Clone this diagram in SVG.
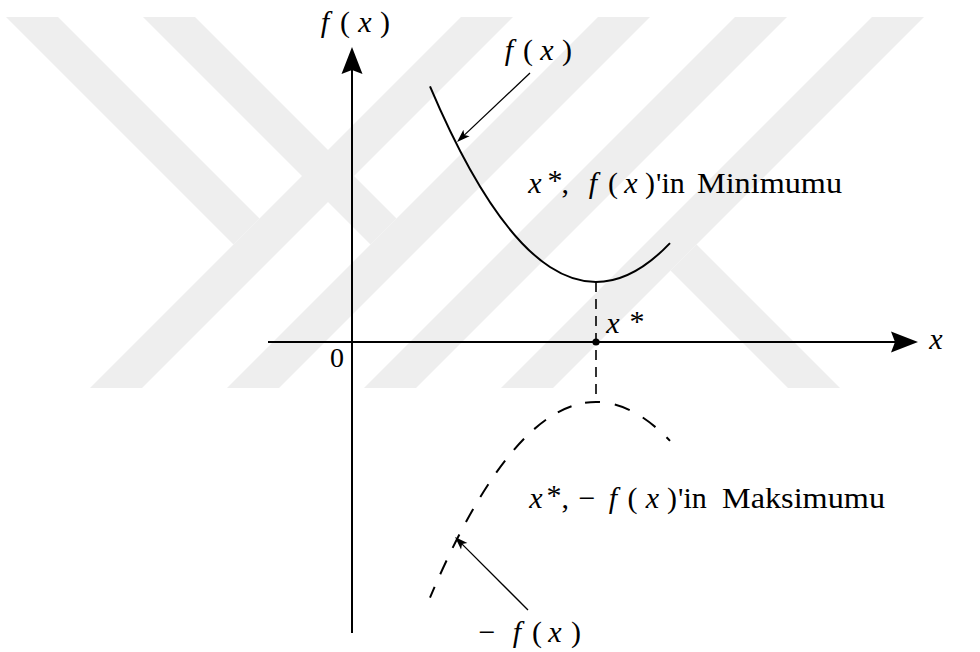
<svg xmlns="http://www.w3.org/2000/svg" width="980" height="652" viewBox="0 0 980 652">
<style>
  .wm{fill:#eeeeee}
  .axis{stroke:#000;stroke-width:2;fill:none}
  .curve{stroke:#000;stroke-width:2;fill:none}
  .dash{stroke:#000;stroke-width:2;fill:none}
  .vdash{stroke:#000;stroke-width:1.6;fill:none;stroke-dasharray:10 7}
  .thin{stroke:#000;stroke-width:1.3;fill:none}
  .m{font-style:italic}
  .c{text-anchor:middle}
</style>
<defs>
  <marker id="axhead" markerUnits="userSpaceOnUse" markerWidth="30" markerHeight="24" viewBox="0 -12 30 24" refX="4" refY="0" orient="auto">
    <path d="M0,-10.5 L27,0 L0,10.5 L4,0 Z" fill="#000"/>
  </marker>
  <marker id="head" markerUnits="userSpaceOnUse" markerWidth="15" markerHeight="10" viewBox="0 -5 15 10" refX="3" refY="0" orient="auto">
    <path d="M0,-4.5 L13,0 L0,4.5 L3,0 Z" fill="#000"/>
  </marker>
</defs>
<rect width="980" height="652" fill="#fff"/>
<g id="watermark">
  <polygon class="wm" points="461,17 513,17 142,388 90,388"/>
  <polygon class="wm" points="598,17 650,17 279,388 227,388"/>
  <polygon class="wm" points="735,17 787,17 416,388 364,388"/>
  <polygon class="wm" points="872,17 924,17 553,388 501,388"/>
  <polygon class="wm" points="6,17 58,17 259.5,218.5 233.5,244.5"/>
  <polygon class="wm" points="143,17 195,17 396.5,218.5 370.5,244.5"/>
  <polygon class="wm" points="670.5,270.5 696.5,244.5 840,388 788,388"/>
</g>
<g id="axes">
  <path id="y-axis" class="axis" d="M352,633 L352,70" marker-end="url(#axhead)"/>
  <path id="x-axis" class="axis" d="M268,342 L895,342" marker-end="url(#axhead)"/>
</g>
<g id="curves">
  <path id="f-curve" class="curve" d="M430,86.4 Q550,369.3 670,243.1"/>
  <path id="negf-left" class="dash" style="stroke-dasharray:15 14;stroke-dashoffset:4" d="M596,402 Q513,402 430,597.6"/>
  <path id="negf-right" class="dash" style="stroke-dasharray:16 15;stroke-dashoffset:12" d="M596,402 Q633,402 670,440.9"/>
  <path id="xstar-line" class="vdash" d="M596,282 L596,402"/>
  <circle id="xstar-dot" cx="596" cy="342" r="3.6" fill="#000"/>
</g>
<g id="connectors">
  <path class="thin" d="M530,73 L464.3,135.1" marker-end="url(#head)"/>
  <path class="thin" d="M528,610 L462.1,544.1" marker-end="url(#head)"/>
</g>
<g id="labels" font-family="Liberation Serif, Times New Roman, DejaVu Serif, serif" font-size="30" fill="#000">
  <text id="ylabel" y="32"><tspan class="m c" x="325">f</tspan><tspan class="c" x="345">(</tspan><tspan class="m c" x="365">x</tspan><tspan class="c" x="385">)</tspan></text>
  <text id="xlabel" class="m c" x="936" y="349">x</text>
  <text id="zero" class="c" x="337" y="367" font-size="28">0</text>
  <text id="xstar" y="333"><tspan class="m c" x="613">x</tspan><tspan class="c" x="637" y="331">*</tspan></text>
  <text id="flabel" y="60"><tspan class="m c" x="509">f</tspan><tspan class="c" x="528">(</tspan><tspan class="m c" x="547">x</tspan><tspan class="c" x="567">)</tspan></text>
  <text id="negflabel" y="642"><tspan class="c" x="487">−</tspan><tspan class="m c" x="517">f</tspan><tspan class="c" x="537">(</tspan><tspan class="m c" x="555">x</tspan><tspan class="c" x="576">)</tspan></text>
  <text id="minlabel" y="193"><tspan class="m c" x="535">x</tspan><tspan class="c" x="555" y="190">*</tspan><tspan class="c" x="569" y="193">,</tspan> <tspan class="m c" x="593">f</tspan><tspan class="c" x="613">(</tspan><tspan class="m c" x="631">x</tspan><tspan class="c" x="650">)</tspan><tspan x="656">'in</tspan> <tspan x="697" textLength="145" lengthAdjust="spacingAndGlyphs">Minimumu</tspan></text>
  <text id="maxlabel" y="508"><tspan class="m c" x="536">x</tspan><tspan class="c" x="554" y="505">*</tspan><tspan class="c" x="569" y="508">,</tspan> <tspan class="c" x="587">−</tspan><tspan class="m c" x="613">f</tspan><tspan class="c" x="632.5">(</tspan><tspan class="m c" x="652.5">x</tspan><tspan class="c" x="672">)</tspan><tspan x="678">'in</tspan> <tspan x="722" textLength="163" lengthAdjust="spacingAndGlyphs">Maksimumu</tspan></text>
</g>
</svg>
